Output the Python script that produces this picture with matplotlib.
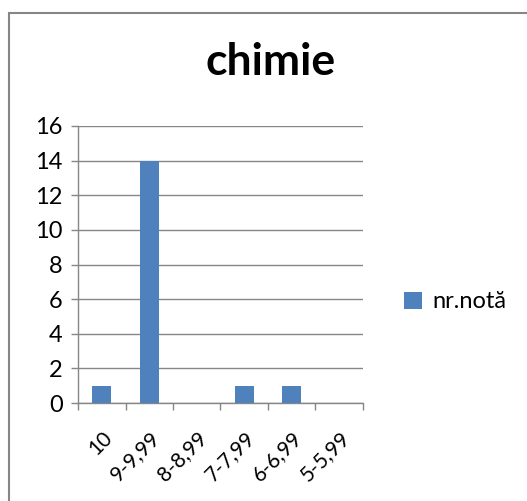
import numpy as np
import matplotlib
matplotlib.use('Agg')
import matplotlib.pyplot as plt
import matplotlib.transforms as mtransforms
from matplotlib.patches import Rectangle

categories = ['10', '9-9,99', '8-8,99', '7-7,99', '6-6,99', '5-5,99']
values = [1, 14, 0, 1, 1, 0]
series_name = 'nr.notă'
title = 'chimie'

plt.rcParams['font.family'] = ['Lato', 'DejaVu Sans']
grey = '#868686'
blue = '#4F81BD'

fig = plt.figure(figsize=(5.27, 5.01), dpi=100)
# chart border (only top and left visible in the crop)
fig.patches.append(Rectangle((9 / 527, -0.1), 1.2, 1 - 13 / 501 + 0.1,
                             transform=fig.transFigure, fill=False,
                             edgecolor=grey, linewidth=1.5))

ax = fig.add_axes([78 / 527, 1 - 403 / 501, 285 / 527, 277 / 501])
x = np.arange(len(categories))
ax.bar(x, values, width=0.4, color=blue, label=series_name, zorder=3)

ax.set_xlim(-0.5, len(categories) - 0.5)
ax.set_ylim(0, 16)
ax.set_yticks(np.arange(0, 17, 2))
ax.yaxis.grid(True, color=grey, linewidth=1.0, zorder=0)

ax.set_xticks(x)
ax.set_xticklabels(categories, rotation=45, ha='right', va='top',
                   rotation_mode='anchor', fontsize=15)
ax.set_xticks(np.arange(-0.5, len(categories), 1), minor=True)
ax.tick_params(axis='x', which='major', length=0, pad=18)
ax.tick_params(axis='x', which='minor', length=5, color=grey, width=1)
ax.tick_params(axis='y', length=5, color=grey, width=1, labelsize=17, pad=6)

# nudge rotated labels to sit like the reference
shift = mtransforms.ScaledTranslation(0, 0, fig.dpi_scale_trans)
for lab in ax.get_xticklabels():
    lab.set_transform(lab.get_transform() + shift)

for s in ['top', 'right']:
    ax.spines[s].set_visible(False)
for s in ['left', 'bottom']:
    ax.spines[s].set_color(grey)
    ax.spines[s].set_linewidth(1.0)

fig.text(271 / 527, 1 - 62 / 501, title, ha='center', va='center',
         fontsize=32, fontweight='bold')

ax.legend(loc='center left', bbox_to_anchor=(404 / 527, 1 - 302 / 501),
          bbox_transform=fig.transFigure, frameon=False, fontsize=17,
          handlelength=0.75, handleheight=0.75, handletextpad=0.45,
          borderpad=0, borderaxespad=0)

fig.savefig('out.png', dpi=100)
